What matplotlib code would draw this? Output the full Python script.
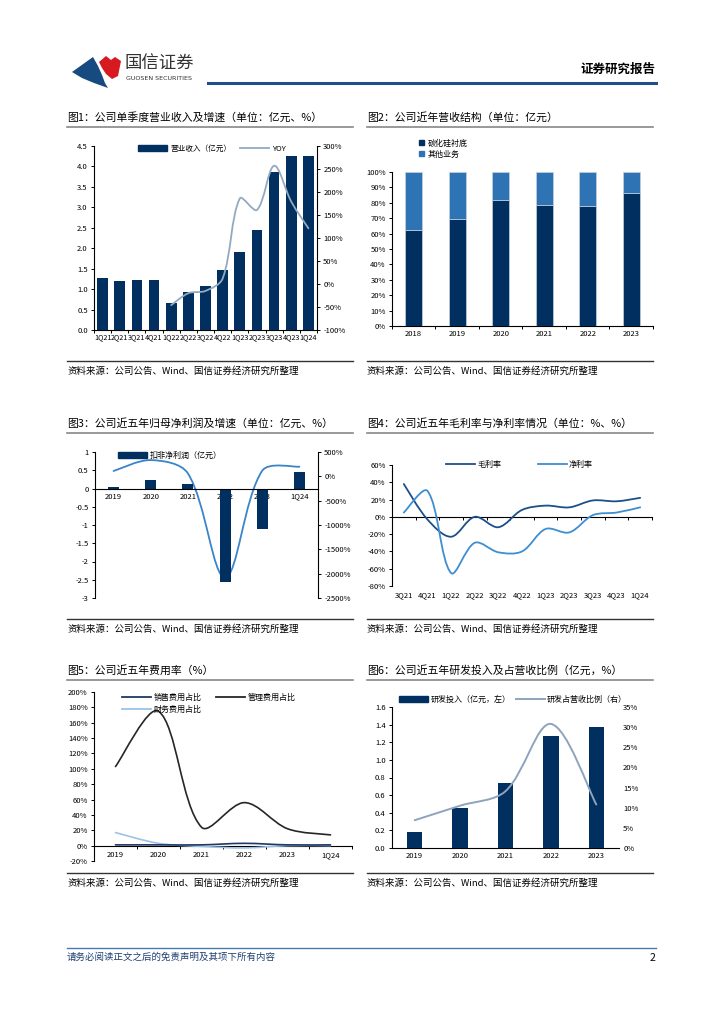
import numpy as np
import matplotlib
matplotlib.use('Agg')
import matplotlib.pyplot as plt
from matplotlib.path import Path
from matplotlib.patches import PathPatch, Polygon, Patch
from matplotlib.lines import Line2D
from matplotlib.ticker import FuncFormatter, FixedLocator

plt.rcParams['font.family'] = ['Noto Sans CJK SC', 'DejaVu Sans']
plt.rcParams['axes.unicode_minus'] = False

# ---- data ----
# Fig 1: quarterly revenue (亿元) and YOY (%)
q_labels = ['1Q21', '2Q21', '3Q21', '4Q21', '1Q22', '2Q22', '3Q22', '4Q22',
            '1Q23', '2Q23', '3Q23', '4Q23', '1Q24']
q_revenue = [1.27, 1.20, 1.22, 1.23, 0.67, 0.93, 1.08, 1.47, 1.91, 2.44, 3.86, 4.26, 4.26]
q_yoy_labels = ['1Q22', '2Q22', '3Q22', '4Q22', '1Q23', '2Q23', '3Q23', '4Q23', '1Q24']
q_yoy = [-46, -20, -15, 12, 186, 161, 257, 179, 121]

# Fig 2: revenue structure (%)
struct_years = ['2018', '2019', '2020', '2021', '2022', '2023']
sic_share = [62.4, 69.3, 82.1, 78.6, 78.2, 86.6]
other_share = [100 - v for v in sic_share]

# Fig 3: net profit (亿元) and growth (%)
np_labels = ['2019', '2020', '2021', '2022', '2023', '1Q24']
net_profit = [0.05, 0.22, 0.13, -2.57, -1.12, 0.44]
np_growth = [110, 334, 60, -2080, 116, 198]

# Fig 4: margins (%)
m_labels = ['3Q21', '4Q21', '1Q22', '2Q22', '3Q22', '4Q22', '1Q23', '2Q23', '3Q23', '4Q23', '1Q24']
gross_margin = [38, -3, -23, 0, -12, 8, 13, 11, 19, 18, 22]
net_margin = [5, 30, -65, -30, -41, -40, -14, -18, 2, 5, 11]

# Fig 5: expense ratios (%)
e_labels = ['2019', '2020', '2021', '2022', '2023', '1Q24']
sales_ratio = [1, 1, 1, 3, 1, 1]
admin_ratio = [103, 175, 24, 56, 22, 14]
fin_ratio = [17, 3, -1, -3, 0, 0]

# Fig 6: R&D spend (亿元) and share (%)
rd_years = ['2019', '2020', '2021', '2022', '2023']
rd_spend = [0.18, 0.45, 0.74, 1.27, 1.37]
rd_share = [6.9, 10.5, 14.1, 30.8, 10.8]

# ---- style ----
NAVY = '#012f5f'
W, H = 724, 1024
fig = plt.figure(figsize=(W / 100, H / 100), dpi=100)


def box(x0, y0, x1, y1):
    return [x0 / W, 1 - y1 / H, (x1 - x0) / W, (y1 - y0) / H]


def ftext(x, y, s, **kw):
    fig.text(x / W, 1 - y / H, s, **kw)


def hline(x0, x1, y, color, lw):
    fig.add_artist(Line2D([x0 / W, x1 / W], [1 - y / H, 1 - y / H], color=color, lw=lw))


def fpoly(pts, color):
    fig.add_artist(Polygon([(x / W, 1 - y / H) for x, y in pts], closed=True,
                           transform=fig.transFigure, color=color, lw=0))


def smooth(ax, xs, ys, color, lw=1.3):
    # Excel-like smoothed line: bezier with tangents scaled by on-screen chord lengths
    bb = ax.get_position()
    x0, x1 = ax.get_xlim()
    y0, y1 = ax.get_ylim()
    sx = bb.width * W / (x1 - x0)
    sy = bb.height * H / (y1 - y0)
    pts = np.column_stack([xs, ys]).astype(float)
    scr = pts * [sx, sy]
    n = len(pts)

    def dist(i, j):
        return np.hypot(*(scr[j] - scr[i]))

    verts, codes = [pts[0]], [Path.MOVETO]
    for i in range(n - 1):
        a = i - 1 if i > 0 else i
        d = i + 2 if i + 2 < n else i + 1
        d12 = dist(i, i + 1)
        f1 = d12 / (dist(a, i) + d12) / 3 if a != i else 1 / 6
        f2 = d12 / (dist(i + 1, d) + d12) / 3 if d != i + 1 else 1 / 6
        c1 = pts[i] + (pts[i + 1] - pts[a]) * f1
        c2 = pts[i + 1] - (pts[d] - pts[i]) * f2
        verts += [c1, c2, pts[i + 1]]
        codes += [Path.CURVE4] * 3
    ax.add_patch(PathPatch(Path(verts, codes), fill=False, edgecolor=color, lw=lw,
                           capstyle='round', joinstyle='round', zorder=4))


def pct(v, _):
    return '%d%%' % v


def base_axes(ax, n):
    for s in ['top', 'right']:
        ax.spines[s].set_visible(False)
    for s in ax.spines.values():
        s.set_linewidth(0.8)
    ax.set_xlim(-0.5, n - 0.5)
    ax.set_xticks(range(n))
    ax.xaxis.set_minor_locator(FixedLocator(np.arange(n + 1) - 0.5))
    ax.tick_params(axis='x', which='major', length=0, labelsize=5.5, pad=3)
    ax.tick_params(axis='x', which='minor', length=2.5, width=0.7)
    ax.tick_params(axis='y', labelsize=5.5, length=2.5, width=0.7, pad=2)


# ---- header ----
fpoly([(72, 72), (93, 57), (98, 66), (102, 75), (105, 83), (108, 88), (94, 83), (82, 78)], '#164a80')
fpoly([(99, 62), (106, 56), (111, 60), (115, 57), (121, 61), (118, 76), (112, 79),
       (106, 74), (102, 68)], '#d71920')
ftext(125, 64, '国信证券', fontsize=12.5, color='#333333', va='center')
ftext(126, 78, 'GUOSEN SECURITIES', fontsize=4.6, color='#333333', va='center',
      family=['DejaVu Sans'])
ftext(655, 69, '证券研究报告', fontsize=9, fontweight='bold', ha='right', va='center')
hline(208, 656, 82.5, '#1f4e88', 2.2)

# ---- titles, separators, sources ----
titles = [(67, 117, '图1：公司单季度营业收入及增速（单位：亿元、%）'),
          (367, 117, '图2：公司近年营收结构（单位：亿元）'),
          (67, 423, '图3：公司近五年归母净利润及增速（单位：亿元、%）'),
          (367, 423, '图4：公司近五年毛利率与净利率情况（单位：%、%）'),
          (67, 670, '图5：公司近五年费用率（%）'),
          (367, 670, '图6：公司近五年研发投入及占营收比例（亿元，%）')]
for x, y, s in titles:
    ftext(x, y, s, fontsize=7.8, va='center')
    hline(x, x + 286, 127 if y == 117 else y + 10, '#888888', 1.2)

src = '资料来源：公司公告、Wind、国信证券经济研究所整理'
for y in [361, 619, 873]:
    for x in [67, 367]:
        hline(x, x + 286, y, '#333333', 1.0)
        ftext(x, y + 10.5, src, fontsize=6.8, va='center')

# ---- footer ----
hline(67, 656, 948, '#4a7bb0', 1.0)
ftext(67, 957, '请务必阅读正文之后的免责声明及其项下所有内容', fontsize=6.8,
      color='#1f3f73', va='center', style='italic')
ftext(655, 958, '2', fontsize=7.5, ha='right', va='center')

# ---- Fig 1 ----
ax1 = fig.add_axes(box(94, 146, 317, 330))
base_axes(ax1, len(q_labels))
x1 = np.arange(len(q_labels))
ax1.bar(x1, q_revenue, width=0.62, color=NAVY, zorder=3)
ax1.set_xticks(x1, q_labels)
ax1.tick_params(axis='x', labelsize=5.2, pad=2)
ax1.set_ylim(0, 4.5)
ax1.set_yticks(np.arange(0, 4.51, 0.5))
ax1.yaxis.set_major_formatter(FuncFormatter(lambda v, _: '%.1f' % v))
ax1r = ax1.twinx()
ax1r.set_ylim(-100, 300)
ax1r.set_yticks(range(-100, 301, 50))
ax1r.yaxis.set_major_formatter(FuncFormatter(pct))
ax1r.tick_params(axis='y', labelsize=5.5, length=2.5, width=0.7, pad=2)
for s in ['top', 'left', 'bottom']:
    ax1r.spines[s].set_visible(False)
ax1r.spines['right'].set_linewidth(0.8)
yoy_x = [q_labels.index(l) for l in q_yoy_labels]
smooth(ax1r, yoy_x, q_yoy, '#94aac0', 1.3)
ax1r.legend([Patch(color=NAVY), Line2D([], [], color='#94aac0', lw=1.3)],
            ['营业收入（亿元）', 'YOY'], loc='upper center', bbox_to_anchor=(0.53, 1.045),
            ncol=2, frameon=False, fontsize=5.5, handlelength=3.8, handleheight=0.7,
            columnspacing=1.2, handletextpad=0.4)

# ---- Fig 2 ----
ax2 = fig.add_axes(box(392, 172, 653, 326))
base_axes(ax2, len(struct_years))
x2 = np.arange(len(struct_years))
ax2.bar(x2, sic_share, width=0.38, color=NAVY, edgecolor='#c8d0dc', lw=0.5, zorder=3)
ax2.bar(x2, other_share, bottom=sic_share, width=0.38, color='#2e74b5',
        edgecolor='#c8d0dc', lw=0.5, zorder=3)
ax2.set_xticks(x2, struct_years)
ax2.set_ylim(0, 100)
ax2.set_yticks(range(0, 101, 10))
ax2.yaxis.set_major_formatter(FuncFormatter(pct))
ax2.legend([Patch(color=NAVY), Patch(color='#2e74b5')], ['碳化硅衬底', '其他业务'],
           loc='upper left', bbox_to_anchor=(0.075, 1.265), frameon=False, fontsize=5.8,
           handlelength=0.7, handleheight=0.7, handletextpad=0.4, labelspacing=0.25)

# ---- Fig 3 ----
ax3 = fig.add_axes(box(95, 452, 318, 598))
base_axes(ax3, len(np_labels))
x3 = np.arange(len(np_labels))
ax3.bar(x3, net_profit, width=0.3, color=NAVY, zorder=2)
ax3.set_xticks(x3, np_labels)
ax3.spines['bottom'].set_position(('data', 0))
ax3.tick_params(axis='x', which='minor', length=0)
ax3.set_ylim(-3, 1)
ax3.set_yticks(np.arange(-3, 1.01, 0.5))
ax3.yaxis.set_major_formatter(FuncFormatter(lambda v, _: '%g' % v))
ax3r = ax3.twinx()
ax3r.set_ylim(-2500, 500)
ax3r.set_yticks(range(-2500, 501, 500))
ax3r.yaxis.set_major_formatter(FuncFormatter(pct))
ax3r.tick_params(axis='y', labelsize=5.5, length=2.5, width=0.7, pad=2)
for s in ['top', 'left', 'bottom']:
    ax3r.spines[s].set_visible(False)
ax3r.spines['right'].set_linewidth(0.8)
smooth(ax3r, x3, np_growth, '#3a84c9', 1.3)
ax3.set_zorder(ax3r.get_zorder() + 1)
ax3.patch.set_visible(False)
ax3.legend([Patch(color=NAVY)], ['扣非净利润（亿元）'], loc='upper left',
           bbox_to_anchor=(0.07, 1.06), frameon=False, fontsize=5.8,
           handlelength=3.6, handleheight=0.8, handletextpad=0.3)

# ---- Fig 4 ----
ax4 = fig.add_axes(box(392, 465, 652, 586))
base_axes(ax4, len(m_labels))
x4 = np.arange(len(m_labels))
ax4.set_ylim(-80, 60)
ax4.set_yticks(range(-80, 61, 20))
ax4.yaxis.set_major_formatter(FuncFormatter(pct))
ax4.spines['bottom'].set_position(('data', 0))
ax4.tick_params(axis='x', which='major', labelbottom=False)
sec4 = ax4.secondary_xaxis('bottom')
sec4.set_xticks(x4, m_labels)
sec4.tick_params(length=0, labelsize=5.5, pad=4)
sec4.spines['bottom'].set_visible(False)
smooth(ax4, x4, gross_margin, '#1d4f8c', 1.3)
smooth(ax4, x4, net_margin, '#3e8ed0', 1.3)
ax4.legend([Line2D([], [], color='#1d4f8c', lw=1.3), Line2D([], [], color='#3e8ed0', lw=1.3)],
           ['毛利率', '净利率'], loc='upper center', bbox_to_anchor=(0.49, 1.1), ncol=2,
           frameon=False, fontsize=5.8, handlelength=3.6, handletextpad=0.3, columnspacing=4.5)

# ---- Fig 5 ----
ax5 = fig.add_axes(box(94, 692, 352, 861))
base_axes(ax5, len(e_labels))
x5 = np.arange(len(e_labels))
ax5.set_ylim(-20, 200)
ax5.set_yticks(range(-20, 201, 20))
ax5.yaxis.set_major_formatter(FuncFormatter(pct))
ax5.spines['bottom'].set_position(('data', 0))
ax5.set_xticks(x5, e_labels)
ax5.tick_params(axis='x', which='major', pad=4)
smooth(ax5, x5, admin_ratio, '#262626', 1.2)
smooth(ax5, x5, fin_ratio, '#9cc3e6', 1.2)
smooth(ax5, x5, sales_ratio, '#1f3864', 1.2)
ax5.legend([Line2D([], [], color='#1f3864', lw=1.3), Line2D([], [], color='#9cc3e6', lw=1.3),
            Line2D([], [], color='#262626', lw=1.3)],
           ['销售费用占比', '财务费用占比', '管理费用占比'], loc='upper left',
           bbox_to_anchor=(0.08, 1.04), ncol=2, frameon=False, fontsize=5.8,
           handlelength=3.6, handletextpad=0.3, columnspacing=1.8, labelspacing=0.45)

# ---- Fig 6 ----
ax6 = fig.add_axes(box(392, 707, 619, 848))
base_axes(ax6, len(rd_years))
x6 = np.arange(len(rd_years))
ax6.bar(x6, rd_spend, width=0.34, color=NAVY, zorder=3)
ax6.set_xticks(x6, rd_years)
ax6.tick_params(axis='x', which='minor', length=0)
ax6.set_ylim(0, 1.6)
ax6.set_yticks(np.arange(0, 1.61, 0.2))
ax6.yaxis.set_major_formatter(FuncFormatter(lambda v, _: '%.1f' % v))
ax6r = ax6.twinx()
ax6r.set_ylim(0, 35)
ax6r.set_yticks(range(0, 36, 5))
ax6r.yaxis.set_major_formatter(FuncFormatter(pct))
ax6r.tick_params(axis='y', labelsize=5.5, length=0, pad=3)
for s in ['top', 'left', 'bottom', 'right']:
    ax6r.spines[s].set_visible(False)
smooth(ax6r, x6, rd_share, '#8ea4bc', 1.4)
ax6r.legend([Patch(color=NAVY), Line2D([], [], color='#8ea4bc', lw=1.4)],
            ['研发投入（亿元，左）', '研发占营收比例（右）'], loc='upper left',
            bbox_to_anchor=(0.0, 1.14), ncol=2, frameon=False, fontsize=5.8,
            handlelength=3.6, handleheight=0.8, handletextpad=0.3, columnspacing=0.6)

fig.savefig('out.png', dpi=100)
